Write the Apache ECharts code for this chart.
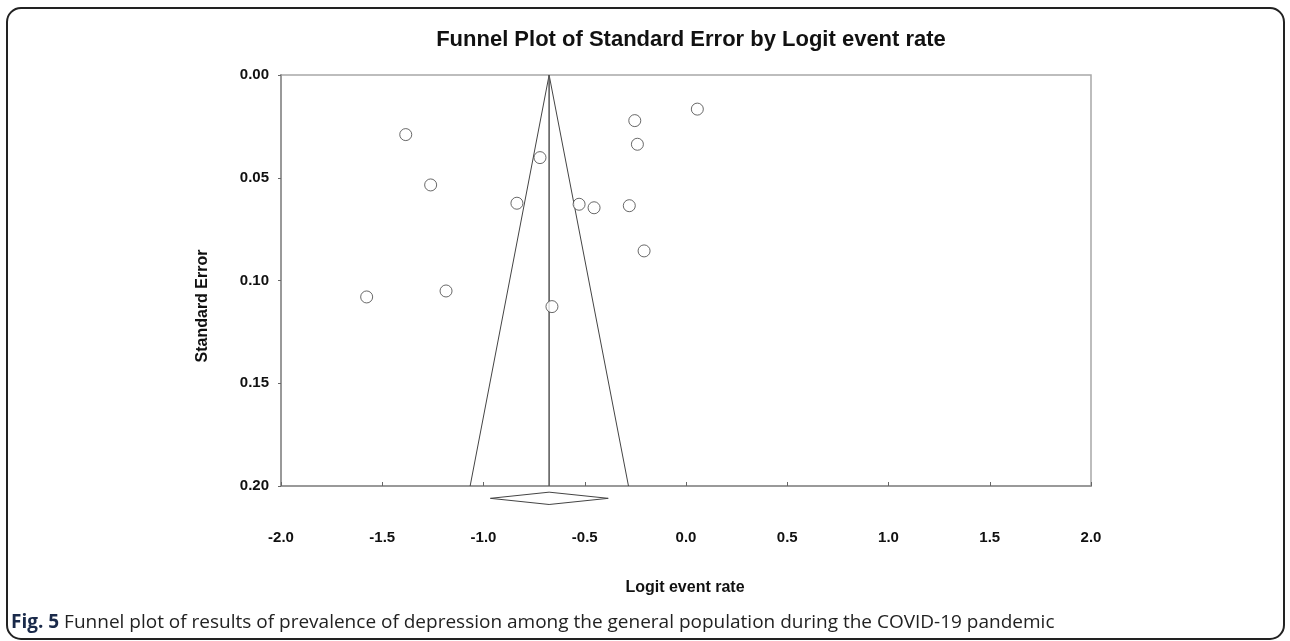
<!DOCTYPE html>
<html lang="en">
<head>
    <meta charset="UTF-8">
    <title>Funnel Plot of Standard Error by Logit event rate</title>
    <script src="https://cdn.jsdelivr.net/npm/echarts@6/dist/echarts.min.js"></script>
    <style>
        html, body { margin: 0; padding: 0; background: #fff; }
    </style>
</head>
<body>
<div id="chart" style="width: 1290px; height: 641px"></div>
<script>
    // study points
    var studyLogit = [-1.384, -0.721, -1.261, -0.835, -1.577, -1.185, -0.662, 0.056, -0.253, -0.240, -0.528, -0.454, -0.280, -0.207];
    var studySE = [0.0290, 0.0402, 0.0535, 0.0624, 0.1080, 0.1051, 0.1127, 0.0166, 0.0222, 0.0337, 0.0629, 0.0646, 0.0636, 0.0856];

    // pooled estimate, funnel limits at SE = 0.20, summary diamond
    var pooledLogit = -0.676;
    var funnelLow = -1.066;
    var funnelHigh = -0.284;
    var diamondLow = -0.966;
    var diamondHigh = -0.384;
    var diamondY = 0.206;
    var diamondHalf = 0.003;

    var xTicks = [-2.0, -1.5, -1.0, -0.5, 0.0, 0.5, 1.0, 1.5, 2.0];
    var yTicks = [0.00, 0.05, 0.10, 0.15, 0.20];

    var points = studyLogit.map(function (x, i) { return [x, studySE[i]]; });

    var chart = echarts.init(document.getElementById('chart'));
    var option = {
        backgroundColor: '#fff',
        animation: false,
        title: {
            text: 'Funnel Plot of Standard Error by Logit event rate',
            left: 686,
            textAlign: 'center',
            top: 24,
            textStyle: {
                fontFamily: 'Liberation Sans, Arial, sans-serif',
                fontWeight: 'bold',
                fontSize: 22,
                color: '#111'
            }
        },
        grid: {
            left: 281,
            right: 199,
            top: 75,
            bottom: 155,
            show: true,
            borderColor: '#a8a8a8',
            borderWidth: 1.5
        },
        xAxis: {
            type: 'value',
            position: 'bottom',
            min: xTicks[0],
            max: xTicks[xTicks.length - 1],
            interval: 0.5,
            axisLine: { onZero: false, lineStyle: { color: '#999', width: 2 } },
            axisTick: { inside: true, length: 4, lineStyle: { color: '#666' } },
            splitLine: { show: false },
            axisLabel: {
                margin: 44,
                fontFamily: 'Liberation Sans, Arial, sans-serif',
                fontWeight: 'bold',
                fontSize: 15,
                color: '#111',
                formatter: function (v) { return v.toFixed(1); }
            }
        },
        yAxis: {
            type: 'value',
            position: 'left',
            inverse: true,
            min: yTicks[0],
            max: yTicks[yTicks.length - 1],
            interval: 0.05,
            axisLine: { onZero: false, lineStyle: { color: '#999', width: 2 } },
            axisTick: { length: 3, lineStyle: { color: '#666' } },
            splitLine: { show: false },
            axisLabel: {
                margin: 12,
                fontFamily: 'Liberation Sans, Arial, sans-serif',
                fontWeight: 'bold',
                fontSize: 15,
                color: '#111',
                formatter: function (v) { return v.toFixed(2); }
            }
        },
        graphic: [
            {
                type: 'rect',
                shape: { x: 7, y: 8, width: 1277, height: 631, r: 14 },
                style: { fill: 'none', stroke: '#222', lineWidth: 2 },
                silent: true
            },
            {
                type: 'text',
                x: 203,
                y: 306,
                rotation: Math.PI / 2,
                style: {
                    text: 'Standard Error',
                    align: 'center',
                    verticalAlign: 'middle',
                    font: 'bold 16px "Liberation Sans", Arial, sans-serif',
                    fill: '#111'
                }
            },
            {
                type: 'text',
                x: 685,
                y: 588,
                style: {
                    text: 'Logit event rate',
                    align: 'center',
                    verticalAlign: 'middle',
                    font: 'bold 16px "Liberation Sans", Arial, sans-serif',
                    fill: '#111'
                }
            },
            {
                type: 'text',
                x: 11,
                y: 623,
                style: {
                    text: '{b|Fig. 5} Funnel plot of results of prevalence of depression among the general population during the COVID-19 pandemic',
                    verticalAlign: 'middle',
                    font: '19px "Open Sans", sans-serif',
                    fill: '#222',
                    rich: {
                        b: { fontWeight: 'bold', fontSize: 19, fontFamily: 'Open Sans', fill: '#1a2a4a' }
                    }
                }
            }
        ],
        series: [
            {
                type: 'line',
                data: [[funnelLow, yTicks[4]], [pooledLogit, 0], [funnelHigh, yTicks[4]]],
                symbol: 'none',
                lineStyle: { color: '#444', width: 1 },
                z: 2
            },
            {
                type: 'line',
                data: [[pooledLogit, 0], [pooledLogit, yTicks[4]]],
                symbol: 'none',
                lineStyle: { color: '#555', width: 1.5 },
                z: 2
            },
            {
                type: 'line',
                clip: false,
                data: [
                    [diamondLow, diamondY],
                    [pooledLogit, diamondY - diamondHalf],
                    [diamondHigh, diamondY],
                    [pooledLogit, diamondY + diamondHalf],
                    [diamondLow, diamondY]
                ],
                symbol: 'none',
                lineStyle: { color: '#444', width: 1 },
                z: 2
            },
            {
                type: 'scatter',
                data: points,
                symbol: 'circle',
                symbolSize: 12,
                itemStyle: { color: '#fff', borderColor: '#444', borderWidth: 1 },
                z: 3
            }
        ]
    };
    chart.setOption(option);
</script>
</body>
</html>
